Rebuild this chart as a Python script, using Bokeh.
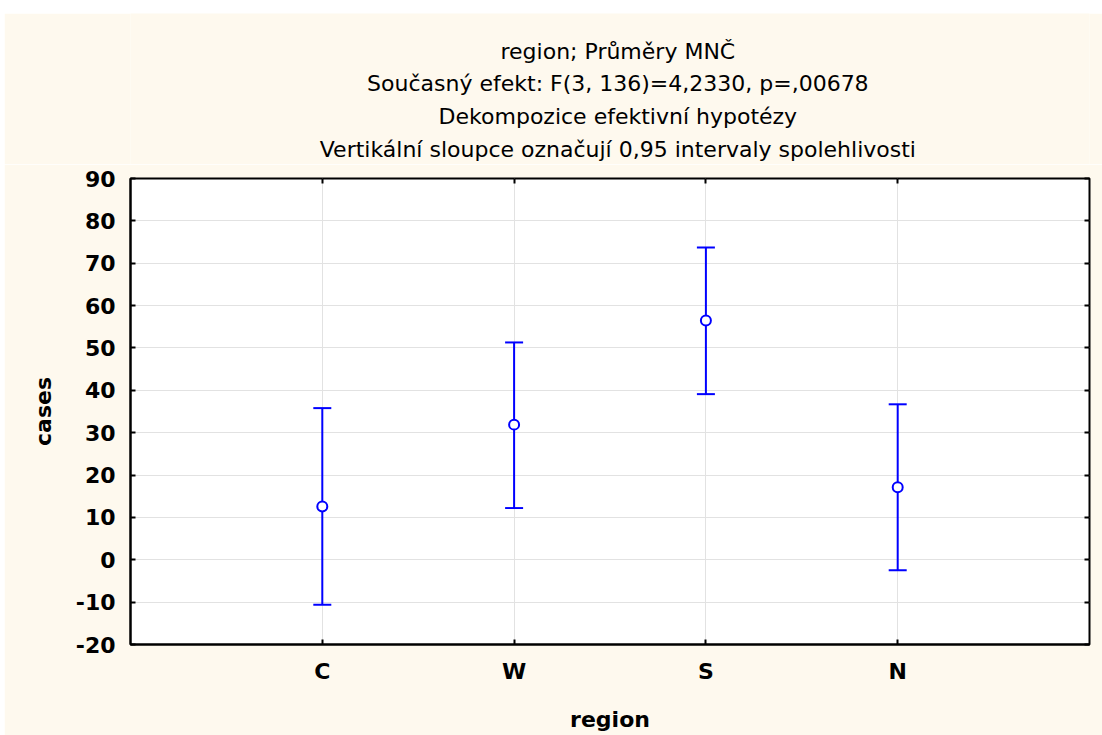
from bokeh.plotting import figure
from bokeh.models import (ColumnDataSource, Whisker, TeeHead, LinearAxis, Range1d,
                          FixedTicker)
from bokeh.layouts import column
from bokeh.core.properties import value
from bokeh.embed import file_html
from bokeh.resources import INLINE

# ---- data ----
regions = ["C", "W", "S", "N"]
means = [12.6, 31.9, 56.5, 17.1]
lower = [-10.6, 12.2, 39.1, -2.5]
upper = [35.8, 51.3, 73.7, 36.7]
y_ticks = [-20, -10, 0, 10, 20, 30, 40, 50, 60, 70, 80, 90]
title_lines = [
    "region; Průměry MNČ",
    "Současný efekt: F(3, 136)=4,2330, p=,00678",
    "Dekompozice efektivní hypotézy",
    "Vertikální sloupce označují 0,95 intervaly spolehlivosti",
]

xs = list(range(1, len(regions) + 1))
src = ColumnDataSource(dict(x=xs, mean=means, lower=lower, upper=upper))

BG = "#FEF9EE"
FONT = "DejaVu Sans"
BLUE = "#0000FF"

# ---- title block (separate, so it can be centred over the whole chart) ----
TW, TH = 1098, 151
tfig = figure(width=TW, height=TH, x_range=Range1d(0, TW), y_range=Range1d(TH, 0),
              output_backend="svg", toolbar_location=None,
              min_border=0, outline_line_color=None,
              background_fill_color=BG, border_fill_color=BG)
tfig.axis.visible = False
tfig.grid.visible = False
tsrc = ColumnDataSource(dict(x=[558] * len(title_lines), y=[37.5, 70.3, 103, 136],
                             t=title_lines))
tfig.text("x", "y", text="t", source=tsrc, text_align="center", text_baseline="alphabetic",
          text_font=value(FONT), text_font_size="22px", text_color="black")

# ---- main chart ----
p = figure(frame_width=959, frame_height=466,
           min_border_left=126, min_border_top=14, min_border_right=13, min_border_bottom=91,
           x_range=Range1d(0, len(regions) + 1), y_range=Range1d(-20, 90),
           output_backend="svg", toolbar_location=None,
           background_fill_color="white", border_fill_color=BG,
           outline_line_color="black", outline_line_width=2)

p.xgrid.ticker = FixedTicker(ticks=xs)
p.ygrid.ticker = FixedTicker(ticks=y_ticks)
for g in (p.xgrid, p.ygrid):
    g.grid_line_color = "#E2E2E2"
    g.grid_line_width = 1

p.xaxis.ticker = FixedTicker(ticks=xs)
p.xaxis.major_label_overrides = {x: r for x, r in zip(xs, regions)}
p.yaxis.ticker = FixedTicker(ticks=y_ticks)
p.yaxis.major_label_overrides = {t: str(t) for t in y_ticks}
for ax in (p.xaxis, p.yaxis):
    ax.axis_line_color = "black"
    ax.axis_line_width = 2
    ax.major_tick_in = 5
    ax.major_tick_out = 0
    ax.major_tick_line_width = 2
    ax.minor_tick_line_color = None
    ax.major_label_text_font = FONT
    ax.major_label_text_font_style = "bold"
    ax.major_label_text_font_size = "22px"
    ax.major_label_text_color = "black"
    ax.axis_label_text_font = FONT
    ax.axis_label_text_font_style = "bold"
    ax.axis_label_text_font_size = "22px"
    ax.axis_label_text_color = "black"
p.xaxis.axis_label = "region"
p.yaxis.axis_label = "cases"
p.yaxis.major_label_standoff = 15
p.xaxis.major_label_standoff = 14
p.yaxis.axis_label_standoff = 17
p.xaxis.axis_label_standoff = 20

ax_r = LinearAxis(ticker=FixedTicker(ticks=y_ticks), major_label_text_font_size="0px",
                  axis_line_color=None, major_tick_in=5, major_tick_out=0,
                  major_tick_line_width=2, minor_tick_line_color=None, major_label_standoff=0)
p.add_layout(ax_r, "right")
ax_t = LinearAxis(ticker=FixedTicker(ticks=xs), major_label_text_font_size="0px",
                  axis_line_color=None, major_tick_in=5, major_tick_out=0,
                  major_tick_line_width=2, minor_tick_line_color=None, major_label_standoff=0)
p.add_layout(ax_t, "above")

wh = Whisker(base="x", upper="upper", lower="lower", source=src, dimension="height",
             line_color=BLUE, line_width=2, level="underlay",
             upper_head=TeeHead(size=18, line_color=BLUE, line_width=2),
             lower_head=TeeHead(size=18, line_color=BLUE, line_width=2))
p.add_layout(wh)
p.scatter("x", "mean", source=src, marker="circle", size=10, fill_color="white",
          line_color=BLUE, line_width=2)

layout = column(tfig, p, spacing=0, margin=(13, 0, 0, 4))
open("out.html", "w").write(file_html(layout, INLINE))
